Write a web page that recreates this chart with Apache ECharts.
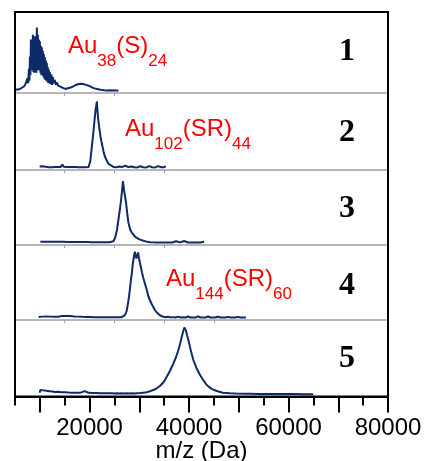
<!DOCTYPE html>
<html>
<head>
<meta charset="utf-8">
<script src="https://cdn.jsdelivr.net/npm/echarts@6/dist/echarts.min.js"></script>
<style>
  html, body { margin: 0; padding: 0; background: #fff; }
  #chart { width: 426px; height: 461px; }
</style>
</head>
<body>
<div id="chart"></div>
<script>
// spectra: [m/z, relative intensity (0-100 of panel height)]
const spec1 = [[5200,4],[5600,5.5],[6000,5],[6400,7],[6800,8],[7100,11],[7300,9],[7500,18],[7650,12],[7800,30],[7900,15],[8000,45],[8100,22],[8200,66],[8300,28],[8400,60],[8500,30],[8600,72],[8700,26],[8800,55],[8900,25],[9000,70],[9100,30],[9200,62],[9300,25],[9400,81],[9500,35],[9600,72],[9700,28],[9800,66],[9900,30],[10000,64],[10100,25],[10200,58],[10300,22],[10400,56],[10500,22],[10600,52],[10700,20],[10800,48],[10900,18],[11000,44],[11100,16],[11200,40],[11300,15],[11400,37],[11500,14],[11600,32],[11700,12],[11800,29],[11900,12],[12000,26],[12150,11],[12300,23],[12450,10],[12600,20],[12800,12],[13000,16],[13200,10],[13400,13],[13700,9],[14000,10],[14400,7],[14800,6.5],[15100,5],[15500,5.5],[16000,6.5],[16500,7.5],[17000,9],[17500,10.5],[18100,11.5],[18700,11],[19300,10],[19800,9],[20300,7.5],[20800,6],[21500,5],[22200,4],[23000,3.5],[23500,3.2],[24200,3.5],[25000,3.2],[25800,3.2]];

const spec2 = [[9950,4.5],[10300,3.5],[10600,5],[10900,3.8],[11200,4.2],[11500,6],[11800,3.7],[12100,4.5],[12400,3.6],[12700,5.5],[13000,4],[13300,6.5],[13600,4],[13900,5],[14200,3.8],[14500,7],[14800,4.2],[15100,5],[15400,4],[15700,5.5],[16000,4],[16300,4.6],[16600,4],[16900,4.4],[17200,3.8],[17500,4.2],[17800,3.6],[18100,5],[18400,3.5],[18700,3.3],[19000,3.5],[19400,3.3],[19800,4],[20150,12],[20460,31],[20750,48],[20980,64],[21200,78],[21400,86],[21470,89],[21550,80],[21700,68],[21930,55],[22200,43],[22470,34],[22800,24],[23100,17],[23470,12],[23800,8],[24200,5.5],[24800,4],[25100,4.8],[25400,3.6],[25700,3.8],[26000,4.5],[26300,3.5],[26600,4],[26900,3.4],[27200,5.5],[27500,3.5],[27800,3.8],[28100,3.4],[28400,4.6],[28700,3.5],[29000,3.6],[29300,5.2],[29600,3.4],[29900,3.6],[30200,4.8],[30500,3.4],[30800,3.6],[31100,5],[31400,3.4],[31700,3.5],[32000,5],[32300,3.4],[32600,3.6],[32900,5.4],[33200,3.4],[33500,3.5],[33800,5],[34100,3.4],[34400,3.6],[34700,5.5],[35000,3.5],[35300,5]];

const spec3 = [[10080,4.5],[10400,5],[10700,4.2],[11000,5.5],[11300,4.5],[11600,5],[11900,4.2],[12200,5.3],[12500,4.4],[12800,5],[13100,4.2],[13400,5.2],[13700,4.3],[14000,4.8],[14300,4.2],[14600,5.2],[14900,4.2],[15200,4.6],[15500,4],[15800,5],[16100,4],[16400,4.5],[16700,4],[17000,5],[17300,4],[17600,4.4],[17900,3.9],[18200,5.5],[18500,4],[18800,4.3],[19100,3.9],[19400,5],[19700,3.9],[20000,4.2],[20300,3.8],[20600,5.6],[20900,3.8],[21200,4.2],[21500,3.8],[21800,5],[22100,3.8],[22400,4.2],[22700,3.8],[23000,4.2],[23300,3.8],[23600,4],[24000,3.8],[24400,4],[24800,5],[25140,10],[25500,20],[25800,34],[26100,48],[26340,61],[26550,74],[26700,85],[26800,83],[26950,72],[27150,64],[27340,56],[27600,40],[27810,30],[28100,22],[28350,18],[28650,15],[28950,12.5],[29250,10.5],[29560,9],[30000,7.5],[30400,6.5],[30820,5.7],[31300,4.8],[31700,4.2],[32170,3.8],[32600,3.5],[33000,4.5],[33400,3.4],[33800,3.6],[34200,3.3],[34600,5],[35000,3.4],[35400,3.5],[35800,3.3],[36200,4.8],[36600,3.3],[37000,3.4],[37400,5],[37800,3.3],[38200,3.5],[38600,3.3],[39000,5.3],[39400,3.3],[39800,3.4],[40200,5],[40600,3.3],[41000,3.5],[41400,3.3],[41800,5.2],[42200,3.4],[42600,3.5],[43000,4.2]];

const spec4 = [[9740,4],[10100,5.2],[10500,4.5],[10900,5.5],[11300,4.6],[11700,5.3],[12100,4.5],[12500,5],[12900,4.4],[13300,5],[13700,4.4],[14100,4.8],[14500,5.5],[14900,5.8],[15300,5.3],[15700,6],[16100,5.2],[16500,5.5],[16900,4.8],[17300,5.3],[17700,4.5],[18100,4.8],[18500,4.2],[18900,4.6],[19300,4],[19700,5.2],[20100,4],[20500,4.2],[20900,3.8],[21300,4.6],[21700,3.8],[22100,4],[22500,3.8],[22900,4],[23300,3.7],[23700,5],[24100,3.7],[24500,3.8],[24900,3.6],[25300,4],[25700,3.8],[26100,3.8],[26500,3.8],[26810,4],[27150,7],[27490,12.8],[27810,26],[28000,35],[28150,44],[28300,53],[28490,62],[28690,75],[28900,84],[29100,91],[29250,86],[29400,82],[29550,85],[29750,90],[29900,84],[30100,77],[30300,71],[30550,63],[30800,56],[31150,48],[31500,40],[31800,32],[32170,26],[32500,21],[32830,17],[33150,13],[33510,10],[33850,7.8],[34200,6],[34500,5],[34840,4.2],[35300,3.8],[35800,4.2],[36300,3.5],[36800,3.7],[37300,3.4],[37800,4.5],[38300,3.4],[38800,3.6],[39300,3.4],[39800,4.6],[40300,3.3],[40800,3.5],[41300,3.3],[41800,4.8],[42300,3.3],[42800,3.5],[43300,3.3],[43800,4.6],[44300,3.3],[44800,3.4],[45300,3.3],[45800,4.4],[46300,3.3],[46800,3.4],[47300,3.3],[47800,4.2],[48300,3.3],[48800,3.4],[49300,3.3],[49800,4.2],[50300,3.3],[50800,3.4],[51440,3.3]];

const spec5 = [[9940,5],[10100,8.5],[10400,7],[10700,8],[11000,7],[11300,7.5],[11600,6.5],[11900,7],[12200,6],[12500,6.5],[12800,5.5],[13100,6],[13400,5.5],[13700,6.3],[14000,5.2],[14300,5.6],[14600,5],[15000,5.5],[15400,4.8],[15800,5.2],[16200,4.8],[16600,5],[17000,4.6],[17400,5],[17800,4.6],[18200,5],[18600,4.5],[19000,7],[19400,4.5],[19800,4.8],[20200,4.4],[20600,4.6],[21000,4.3],[21500,4.5],[22000,4.2],[22500,4.4],[23000,4.2],[23500,4.3],[24000,4.1],[24500,4.2],[25000,4],[25500,4.2],[26000,4],[26500,4.1],[27000,3.9],[27500,4.1],[28000,4],[28500,4.2],[29000,4],[29500,4.3],[30160,4.5],[30800,5],[31500,5.5],[32200,7],[32800,8.5],[33510,10.7],[34200,14],[34900,19],[35520,25.9],[36200,34],[36850,43.4],[37350,51],[37850,60.8],[38200,69],[38530,78],[38850,86],[39050,90],[39200,91],[39350,87],[39600,80],[39860,73.9],[40350,60],[40860,47.7],[41500,37],[42210,28],[42900,21],[43550,15],[44500,10],[45560,7.2],[46800,5],[48230,4.2],[49500,3.8],[51000,3.6],[52500,3.5],[54000,3.4],[55500,3.4],[57000,3.3],[58500,3.3],[60000,3.2],[61500,3.2],[63000,3.1],[64960,3.1]];

const spectra = [spec1, spec2, spec3, spec4, spec5];

// ticks
const panelTicks = [[15000, 25000], [15000, 25000, 35000], [15000, 25000, 35000], [15000, 25000, 35000, 45000]];
const majorTicks = [10000, 20000, 30000, 40000, 50000, 60000, 70000, 80000];
const minorTicks = [5000, 15000, 25000, 35000, 45000, 55000, 65000, 75000];
const tickLabels = [20000, 40000, 60000, 80000];

const panelNames = ['1', '2', '3', '4', '5'];

// layout of the 5 stacked panels
const panelTop = [12, 93, 170, 245, 320];
const panelHeight = [81, 77, 75, 75, 76.5];
const numberY = [52, 133, 209, 286, 359];

const navy = '#0e2a68';

var myChart = echarts.init(document.getElementById('chart'));

var grids = [], xAxes = [], yAxes = [], series = [];
for (var i = 0; i < 5; i++) {
  // outerBoundsMode none: keep the panels exactly where they are put
  grids.push({ left: 15, right: 38, top: panelTop[i], height: panelHeight[i], outerBoundsMode: 'none', containLabel: false });
  var last = i == 4;
  xAxes.push({
    gridIndex: i,
    type: 'value',
    min: 5000,
    max: 80000,
    axisLine: { show: true, onZero: false, lineStyle: { color: last ? '#000' : '#a0a0a0', width: last ? 2 : 1.5 } },
    axisTick: last
      ? { show: true, customValues: majorTicks, length: 16, lineStyle: { color: '#000', width: 2 } }
      : { show: true, customValues: panelTicks[i], length: 3, lineStyle: { color: '#a0a0a0', width: 1 } },
    axisLabel: last
      ? { customValues: tickLabels, margin: 20, color: '#000', fontSize: 24, fontFamily: 'Liberation Sans',
          formatter: function (v) { return String(v); } }
      : { show: false },
    splitLine: { show: false },
    name: last ? 'm/z (Da)' : '',
    nameLocation: 'middle',
    nameGap: 43,
    nameMoveOverlap: false,
    nameTextStyle: { color: '#000', fontSize: 24, fontFamily: 'Liberation Sans' },
    z: last ? 5 : 1
  });
  yAxes.push({
    gridIndex: i, type: 'value', min: 0, max: 100,
    axisLine: { show: false }, axisTick: { show: false }, axisLabel: { show: false }, splitLine: { show: false }
  });
  series.push({
    type: 'line',
    xAxisIndex: i,
    yAxisIndex: i,
    data: spectra[i],
    showSymbol: false,
    lineStyle: { color: navy, width: 2 },
    animation: false
  });
}
// minor ticks on the bottom axis
xAxes.push({
  gridIndex: 4, type: 'value', min: 5000, max: 80000, position: 'bottom',
  axisLine: { show: false, onZero: false },
  axisTick: { show: true, customValues: minorTicks, length: 9, lineStyle: { color: '#000', width: 2 } },
  axisLabel: { show: false }, splitLine: { show: false }
});

// frame round all five panels
grids.push({ left: 15, right: 38, top: 12, bottom: 461 - 396.5, outerBoundsMode: 'none', show: true, borderColor: '#000', borderWidth: 2, backgroundColor: 'transparent', z: 10 });
xAxes.push({ gridIndex: 5, type: 'value', show: false, min: 5000, max: 80000 });
yAxes.push({ gridIndex: 5, type: 'value', show: false, min: 0, max: 100 });

var richStyle = {
  m: { fontSize: 24, lineHeight: 26, color: '#ff0000', fontWeight: 'normal', fontFamily: 'Liberation Sans' },
  s: { fontSize: 17, lineHeight: 17, color: '#ff0000', fontWeight: 'normal', fontFamily: 'Liberation Sans', padding: [20, 0, 0, 0], verticalAlign: 'top' }
};

var titles = [
  { text: '{m|Au}{s|38}{m|(S)}{s|24}', left: 68, top: 33 },
  { text: '{m|Au}{s|102}{m|(SR)}{s|44}', left: 125, top: 116 },
  { text: '{m|Au}{s|144}{m|(SR)}{s|60}', left: 166, top: 266 }
].map(function (t) {
  t.padding = 0;
  t.textStyle = { fontWeight: 'normal', rich: richStyle };
  return t;
});

var numbers = panelNames.map(function (n, k) {
  return {
    type: 'text',
    x: 347,
    y: numberY[k],
    style: {
      text: n,
      font: 'bold 32px "Liberation Serif"',
      fill: '#000',
      align: 'center',
      verticalAlign: 'middle'
    }
  };
});

myChart.setOption({
  animation: false,
  title: titles,
  grid: grids,
  xAxis: xAxes,
  yAxis: yAxes,
  series: series,
  graphic: numbers
});
</script>
</body>
</html>
